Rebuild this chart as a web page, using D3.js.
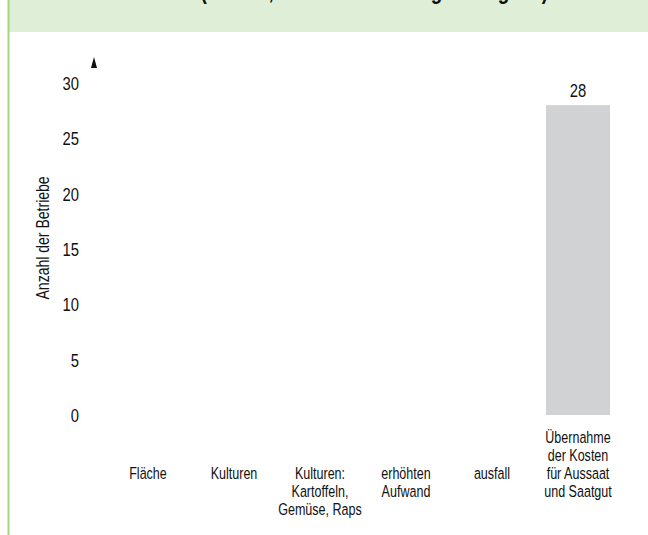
<!DOCTYPE html>
<html><head><meta charset="utf-8">
<script src="https://cdn.jsdelivr.net/npm/d3@7"></script>
<style>
html,body{margin:0;padding:0;background:#fff;}
svg{display:block;}
text{font-family:"Liberation Sans",Arial,sans-serif;fill:#111;}
</style></head>
<body>
<script>
// ---- data ----
const categories = ["Fläche","Kulturen","Kulturen: Kartoffeln, Gemüse, Raps","erhöhten Aufwand","ausfall","Übernahme der Kosten für Aussaat und Saatgut"];
const categoryLines = [
  ["Fläche"],
  ["Kulturen"],
  ["Kulturen:","Kartoffeln,","Gemüse, Raps"],
  ["erhöhten","Aufwand"],
  ["ausfall"],
  ["Übernahme","der Kosten","für Aussaat","und Saatgut"]
];
const values = [null, null, null, null, null, 28];
const yTicks = [0,5,10,15,20,25,30];
const yTitle = "Anzahl der Betriebe";
const chartTitle = "Art der Hilfen (Anzahl, Mehrfachnennungen möglich)";

// ---- layout ----
const W = 648, H = 535;
const SX = 0.78; // horizontal condensing of the type
const condense = (cx, s = SX) => `translate(${cx},0) scale(${s},1) translate(${-cx},0)`;
const svg = d3.select("body").append("svg").attr("width", W).attr("height", H);

// header band and left rule
svg.append("rect").attr("x", 9).attr("y", 0).attr("width", W - 9).attr("height", 32).attr("fill", "#dfeed7");
svg.append("rect").attr("x", 7.5).attr("y", 0).attr("width", 2).attr("height", H).attr("fill", "#a6d67c");
svg.append("text").attr("x", 548).attr("y", -1.5).attr("text-anchor", "end")
  .attr("transform", condense(548, 0.82))
  .style("font-size", "23px").style("font-weight", "bold").text(chartTitle);

const x = d3.scaleBand().domain(categories).range([105, 621]).paddingInner(0.256).paddingOuter(0.128);
const y = d3.scaleLinear().domain([0, 30]).range([415, 83]);

// y axis (labels only, no line)
const yAxis = d3.axisLeft(y).tickValues(yTicks).tickSize(0).tickPadding(0);
const gy = svg.append("g").attr("transform", "translate(79,0)").call(yAxis);
gy.select(".domain").remove();
gy.attr("font-family", null).attr("font-size", null);
gy.selectAll("text").attr("dy", "0.36em").attr("transform", "scale(0.8,1)")
  .style("font-size", "18.5px").attr("fill", "#111");

// arrow head at top of y axis
svg.append("path").attr("d", d3.line()([[94, 57], [97, 68], [91, 68]]) + "Z").attr("fill", "#111");

// y title
svg.append("g").attr("transform", "translate(43," + y(16) + ") rotate(-90)")
  .append("text").attr("transform", `scale(${SX},1)`)
  .attr("text-anchor", "middle").attr("dy", "0.35em").style("font-size", "18px").text(yTitle);

// bars
const data = categories.map((c, i) => ({c, v: values[i], lines: categoryLines[i]}));
const cxOf = d => x(d.c) + x.bandwidth() / 2;
svg.selectAll("rect.bar").data(data.filter(d => d.v != null)).join("rect").attr("class", "bar")
  .attr("x", d => x(d.c)).attr("width", x.bandwidth())
  .attr("y", d => y(d.v)).attr("height", d => y(0) - y(d.v)).attr("fill", "#d1d2d4");

svg.selectAll("text.val").data(data.filter(d => d.v != null)).join("text").attr("class", "val")
  .attr("x", cxOf).attr("y", d => y(d.v) - 8)
  .attr("transform", d => condense(cxOf(d), 0.8))
  .attr("text-anchor", "middle").style("font-size", "18.5px").text(d => d.v);

// category labels
const rowBase = 443, rowStep = 18;
const lab = svg.selectAll("text.cat").data(data).join("text").attr("class", "cat")
  .attr("text-anchor", "middle").style("font-size", "16.5px")
  .attr("transform", d => condense(cxOf(d), 0.76));
lab.each(function(d) {
  const startRow = d.lines.length > 3 ? 0 : 2;
  const t = d3.select(this);
  d.lines.forEach((ln, j) => {
    t.append("tspan").attr("x", cxOf(d))
      .attr("y", rowBase + (startRow + j) * rowStep).text(ln);
  });
});
</script>
</body></html>
